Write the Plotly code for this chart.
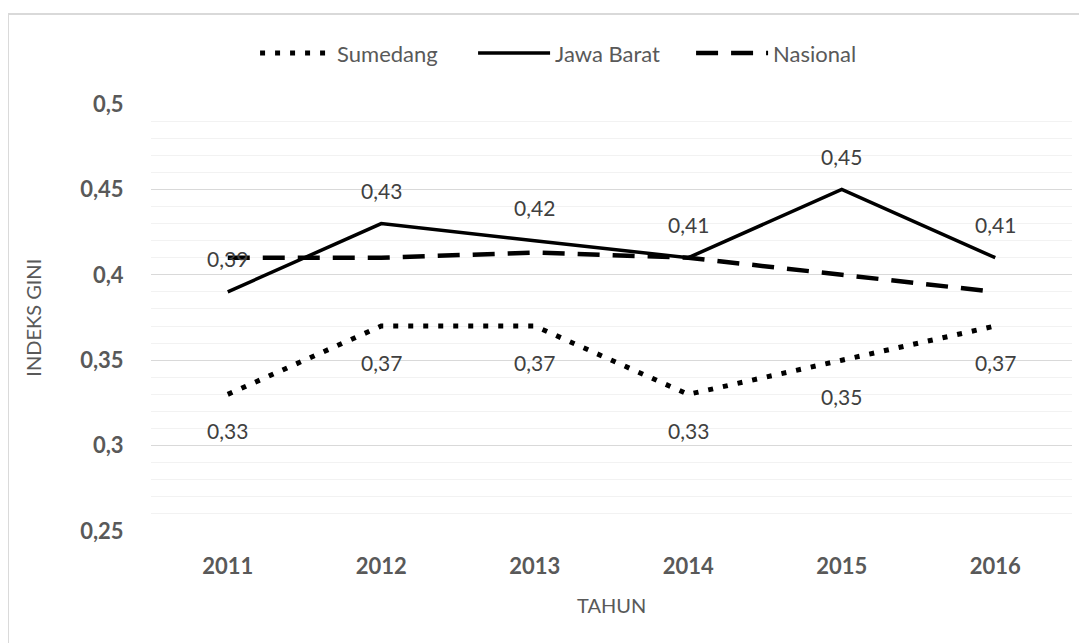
import plotly.graph_objects as go

years = ["2011", "2012", "2013", "2014", "2015", "2016"]
sumedang = [0.33, 0.37, 0.37, 0.33, 0.35, 0.37]
jawa_barat = [0.39, 0.43, 0.42, 0.41, 0.45, 0.41]
nasional = [0.41, 0.41, 0.413, 0.41, 0.40, 0.39]
y_ticks = [0.25, 0.3, 0.35, 0.4, 0.45, 0.5]
y_tick_labels = ["0,25", "0,3", "0,35", "0,4", "0,45", "0,5"]

def fmt(v):
    return f"{v:.2f}".replace(".", ",")

FONT = "Lato"
fig = go.Figure()
fig.add_trace(go.Scatter(x=years, y=sumedang, name="Sumedang", mode="lines",
                         line=dict(color="black", width=5, dash="5px,10px")))
fig.add_trace(go.Scatter(x=years, y=jawa_barat, name="Jawa Barat", mode="lines",
                         line=dict(color="black", width=3.5)))
fig.add_trace(go.Scatter(x=years, y=nasional, name="Nasional", mode="lines",
                         line=dict(color="black", width=4.5, dash="22px,13px")))

ann = []
for i, v in enumerate(jawa_barat):
    ann.append(dict(x=i, y=v, text=fmt(v), showarrow=False, yshift=33,
                    font=dict(family=FONT, size=21, color="#404040")))
for i, v in enumerate(sumedang):
    ann.append(dict(x=i, y=v, text=fmt(v), showarrow=False, yshift=-36,
                    font=dict(family=FONT, size=21, color="#404040")))
ann.append(dict(xref="paper", yref="paper", x=-0.129, y=0.5, text="INDEKS GINI",
                textangle=-90, showarrow=False, xanchor="center", yanchor="middle",
                font=dict(family=FONT, size=20, color="#595959")))
ann.append(dict(xref="paper", yref="paper", x=0.5, y=-0.173, text="TAHUN",
                showarrow=False, xanchor="center", yanchor="middle",
                font=dict(family=FONT, size=20, color="#595959")))

fig.update_layout(
    width=1079, height=635,
    margin=dict(l=143, r=15, t=96, b=112),
    paper_bgcolor="white", plot_bgcolor="white",
    font=dict(family=FONT, color="#595959"),
    showlegend=True,
    legend=dict(orientation="h", x=0.113, y=1.119, xanchor="left", yanchor="middle",
                font=dict(family=FONT, size=22, color="#595959"), itemwidth=72,
                entrywidth=131, entrywidthmode="pixels",
                bgcolor="rgba(0,0,0,0)"),
    annotations=ann,
    shapes=[dict(type="rect", xref="paper", yref="paper", x0=-0.1553, x1=1.05,
                 y0=-0.4, y1=1.2108, line=dict(color="#d9d9d9", width=2), layer="below")],
)
fig.update_xaxes(type="category", range=[-0.5, 5.5], showgrid=False, showline=False,
                 zeroline=False, ticks="outside", ticklen=16, tickcolor="rgba(0,0,0,0)",
                 tickfont=dict(family=FONT, size=22, color="#595959", weight="bold"))
fig.update_yaxes(range=[0.25, 0.5], tickvals=y_ticks, ticktext=y_tick_labels,
                 showgrid=True, gridcolor="#d9d9d9", gridwidth=1, zeroline=False,
                 showline=False, ticks="outside", ticklen=22, tickcolor="rgba(0,0,0,0)",
                 tickfont=dict(family=FONT, size=22, color="#595959", weight="bold"),
                 minor=dict(dtick=0.01, tick0=0.25, showgrid=True, gridcolor="#f2f2f2", gridwidth=1))

fig.write_html("out.html")
